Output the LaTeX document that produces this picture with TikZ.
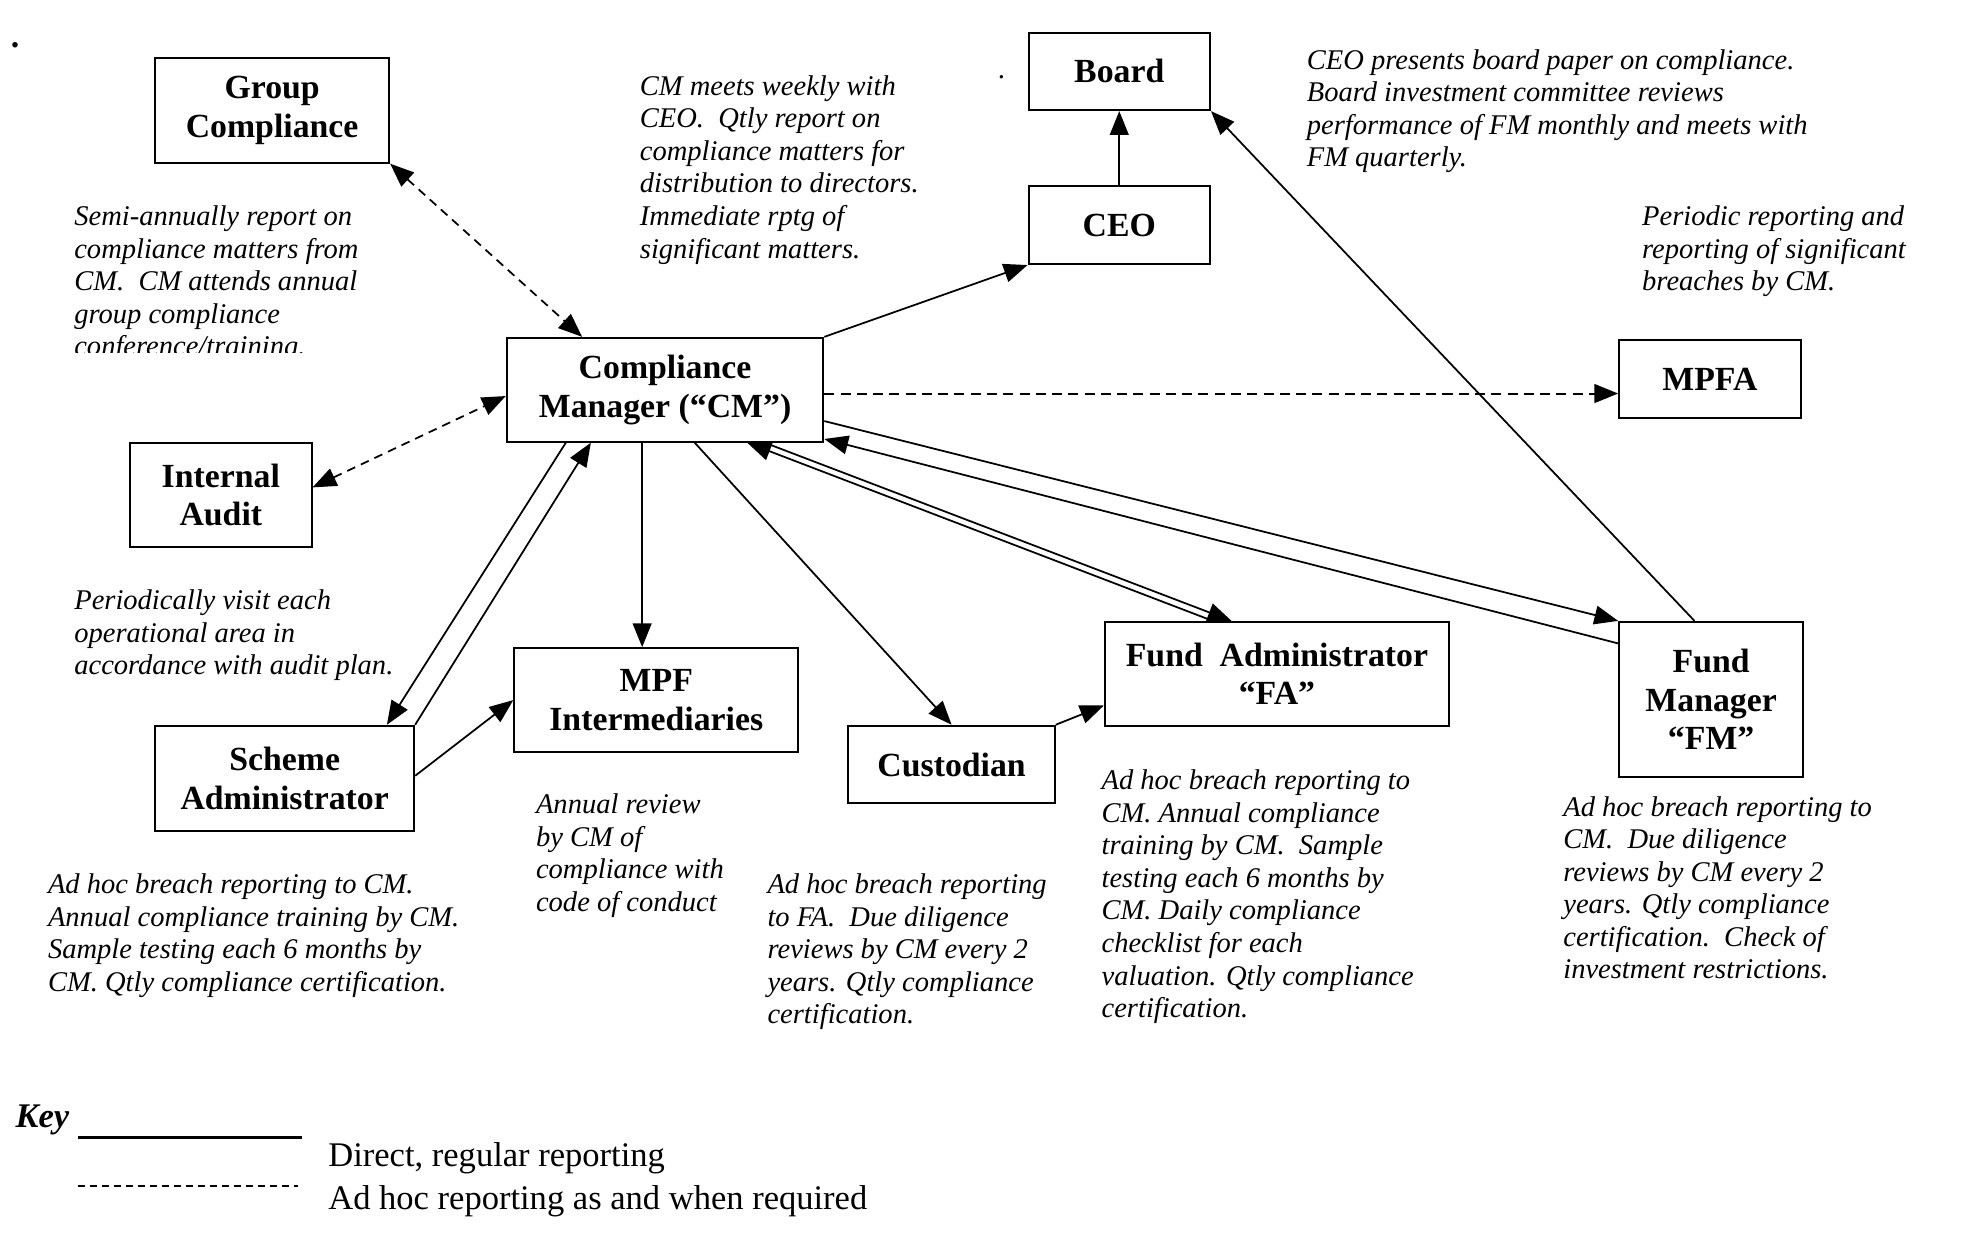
\documentclass[tikz,border=0pt]{standalone}
\usepackage{fontspec}
\setmainfont{Liberation Serif}
\usetikzlibrary{arrows.meta,calc}
\newcommand\bfnt{\fontsize{13.5}{15.5}\selectfont\bfseries}
\newcommand\itnt{\fontsize{11.4}{13}\selectfont\itshape}
\newcommand\keynt{\fontsize{13.8}{16}\selectfont}
\begin{document}
\begin{tikzpicture}[x=0.5pt,y=-0.5pt,
  box/.style={draw, line width=0.8pt, inner sep=0pt, align=center, font=\bfnt},
  note/.style={anchor=north west, inner sep=0pt, align=left, font=\itnt},
  tip/.tip={Triangle[length=9.5pt,width=7.5pt]},
  conn/.style={line width=0.7pt, -tip},
  dconn/.style={conn, line width=0.8pt, dash pattern=on 4pt off 2.5pt},
  bconn/.style={line width=0.7pt, tip-tip, dash pattern=on 3.5pt off 2.5pt}
]
\useasboundingbox (0,0) rectangle (1568,997);

% boxes
\node[box, minimum width=93.5pt, minimum height=42pt] (gc) at (217.5,88) {Group\\Compliance};
\node[box, minimum width=72.5pt, minimum height=31pt] (board) at (894.5,57) {Board};
\node[box, minimum width=72.5pt, minimum height=31pt] (ceo) at (894.5,180) {CEO};
\node[box, minimum width=126.5pt, minimum height=41.5pt] (cm) at (531.5,311.5) {Compliance\\Manager (“CM”)};
\node[box, minimum width=72.5pt, minimum height=31pt] (mpfa) at (1366.5,303) {MPFA};
\node[box, minimum width=72.5pt, minimum height=41.5pt] (ia) at (176.5,395.5) {Internal\\Audit};
\node[box, minimum width=113.5pt, minimum height=41.5pt] (mpf) at (524.5,559.5) {MPF\\Intermediaries};
\node[box, minimum width=103.5pt, minimum height=42pt] (sa) at (227.5,622) {Scheme\\Administrator};
\node[box, minimum width=82.5pt, minimum height=31pt] (cust) at (760.5,611) {Custodian};
\node[box, minimum width=137.5pt, minimum height=41.5pt] (fa) at (1020.5,538.5) {Fund\ \ Administrator\\“FA”};
\node[box, minimum width=73.5pt, minimum height=62pt] (fm) at (1367.5,559) {Fund\\Manager\\“FM”};

% stray dots
\node[inner sep=0pt, font=\bfnt] (dot1) at (12,36) {.};
\node[inner sep=0pt, font=\itnt] (dot2) at (801,62) {.};

% notes
\begin{scope}
\clip (40,150) rectangle (330,282);
\node[note] (gcnote) at (59,164) {Semi-annually report on\\compliance matters from\\CM.\ \ CM attends annual\\group compliance\\conference/training.};
\end{scope}
\node[note] (cmnote) at (511,60) {CM meets weekly with\\CEO.\ \ Qtly report on\\compliance matters for\\distribution to directors.\\Immediate rptg of\\significant matters.};
\node[note] (boardnote) at (1044,39) {CEO presents board paper on compliance.\\Board investment committee reviews\\performance of FM monthly and meets with\\FM quarterly.};
\node[note] (mpfanote) at (1312,164) {Periodic reporting and\\reporting of significant\\breaches by CM.};
\node[note] (ianote) at (59,471) {Periodically visit each\\operational area in\\accordance with audit plan.};
\node[note] (sanote) at (38,698) {Ad hoc breach reporting to CM.\\Annual compliance training by CM.\\Sample testing each 6 months by\\CM. Qtly compliance certification.};
\node[note] (mpfnote) at (428,634) {Annual review\\by CM of\\compliance with\\code of conduct};
\node[note] (custnote) at (613,698) {Ad hoc breach reporting\\to FA.\ \ Due diligence\\reviews by CM every 2\\years. Qtly compliance\\certification.};
\node[note] (fanote) at (880,615) {Ad hoc breach reporting to\\CM. Annual compliance\\training by CM.\ \ Sample\\testing each 6 months by\\CM. Daily compliance\\checklist for each\\valuation. Qtly compliance\\certification.};
\node[note] (fmnote) at (1249,636) {Ad hoc breach reporting to\\CM.\ \ Due diligence\\reviews by CM every 2\\years. Qtly compliance\\certification.\ \ Check of\\investment restrictions.};

% connectors
\draw[bconn] (gc.south east) -- ($(cm.north west)+(61,0)$);
\draw[bconn] ($(ia.east)+(0,-6)$) -- ($(cm.west)+(0,5)$);
\draw[conn] (cm.north east) -- (ceo.south west);
\draw[conn] (ceo.north) -- (board.south);
\draw[conn] ($(fm.north west)+(61,0)$) -- (board.south east);
\draw[dconn] ($(cm.east)+(0,3)$) -- ($(mpfa.west)+(0,11.5)$);
\coordinate (c1) at ($(cm.south west)+(109,0)$);
\draw[conn] (c1) -- (c1 |- mpf.north);
\draw[conn] ($(cm.south west)+(48,0)$) -- ($(sa.north west)+(186,0)$);
\draw[conn] (sa.north east) -- ($(cm.south west)+(68,0)$);
\draw[conn] ($(sa.east)+(0,-2)$) -- (mpf.west);
\draw[conn] ($(cm.south west)+(151,0)$) -- (cust.north);
\draw[conn] (cust.north east) -- ($(fa.south west)+(0,-17)$);
\draw[conn] ($(fa.north west)+(87,0)$) -- ($(cm.south west)+(193,0)$);
\draw[conn] ($(cm.south west)+(207,0)$) -- ($(fa.north west)+(102,0)$);
\draw[conn] ($(fm.north west)+(0,18)$) -- ($(cm.south east)+(0,-3)$);
\draw[conn] ($(cm.east)+(0,25)$) -- (fm.north west);

% key
\node[anchor=west, inner sep=0pt, font=\keynt\bfseries\itshape] (key) at (12,895) {Key};
\draw[line width=1.1pt] (62,909) -- (241,909);
\node[anchor=west, inner sep=0pt, font=\keynt] (k1) at (262,926) {Direct, regular reporting};
\draw[line width=0.7pt, dash pattern=on 3pt off 1.8pt] (62,948) -- (238,948);
\node[anchor=west, inner sep=0pt, font=\keynt] (k2) at (262,960) {Ad hoc reporting as and when required};
\end{tikzpicture}
\end{document}
